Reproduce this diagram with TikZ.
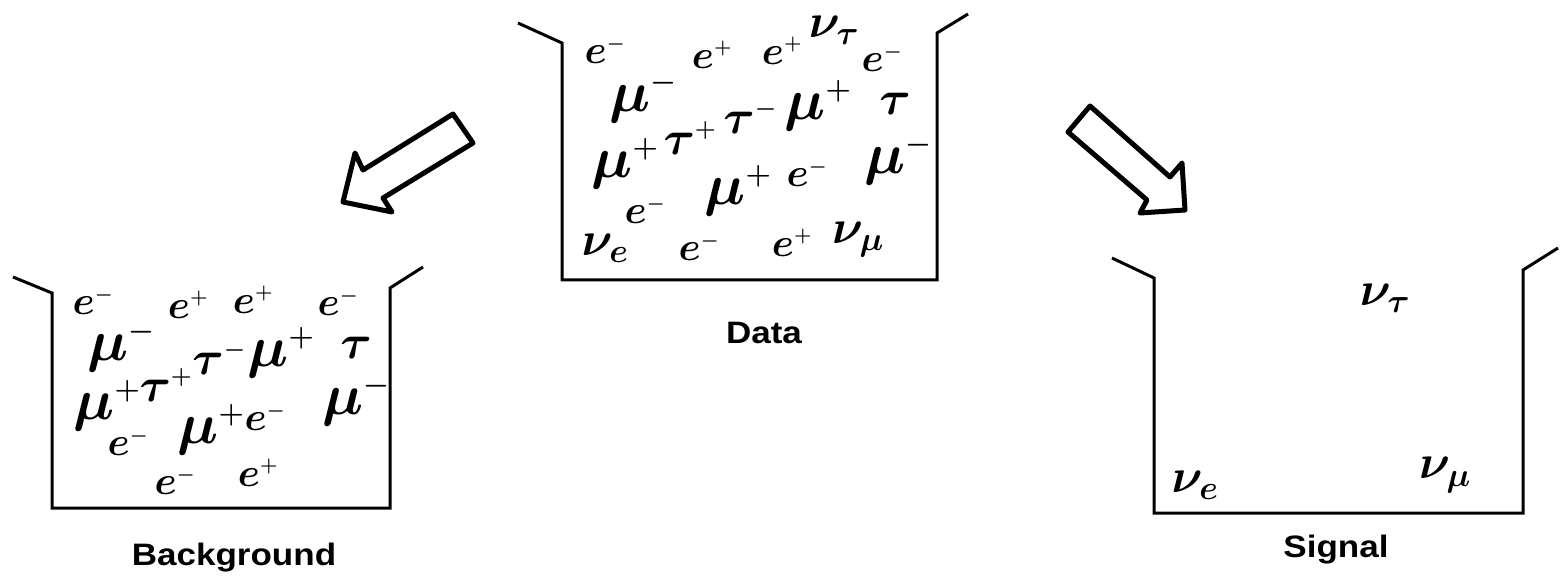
\RequirePackage{fix-cm}
\documentclass[tikz,border=0pt]{standalone}
\usepackage{fontspec}
\newfontfamily\lblfont{Liberation Sans}[FakeStretch=1.13]
\newcommand{\chgm}{^{\scriptscriptstyle -}}
\newcommand{\chgp}{^{\scriptscriptstyle +}}
\begin{document}
\begin{tikzpicture}[x=1pt,y=-1pt,
  bucket/.style={line width=3pt,line join=miter},
  blockarrow/.style={line width=5pt,line join=round},
  lbl/.style={font=\lblfont\bfseries\fontsize{31}{31}\selectfont,anchor=base,inner sep=0pt},
  pe/.style={font=\fontsize{40}{40}\selectfont\boldmath,inner sep=0pt},
  pmu/.style={font=\fontsize{58}{58}\selectfont\boldmath,inner sep=0pt},
  ptau/.style={font=\fontsize{48}{48}\selectfont\boldmath,inner sep=0pt},
  pnu/.style={font=\fontsize{48}{48}\selectfont\boldmath,inner sep=0pt}]
\useasboundingbox (0,0) rectangle (1561,577);

% Data bucket
\coordinate (d1) at (518,23); \coordinate (d2) at (562,43);
\coordinate (d3) at (562,280); \coordinate (d4) at (937,280);
\coordinate (d5) at (937,33); \coordinate (d6) at (968,14);
\draw[bucket] (d1) -- (d2) -- (d3) -- (d4) -- (d5) -- (d6);
\node[lbl] (datalbl) at (764,343) {Data};

% Background bucket
\coordinate (b1) at (13,277); \coordinate (b2) at (52,293);
\coordinate (b3) at (52,508); \coordinate (b4) at (390,508);
\coordinate (b5) at (390,288); \coordinate (b6) at (423,267);
\draw[bucket] (b1) -- (b2) -- (b3) -- (b4) -- (b5) -- (b6);
\node[lbl] (bglbl) at (234,565) {Background};

% Signal bucket
\coordinate (s1) at (1112,258); \coordinate (s2) at (1154,278);
\coordinate (s3) at (1154,513); \coordinate (s4) at (1523,513);
\coordinate (s5) at (1523,270); \coordinate (s6) at (1558,248);
\draw[bucket] (s1) -- (s2) -- (s3) -- (s4) -- (s5) -- (s6);
\node[lbl] (siglbl) at (1336,557) {Signal};

% Block arrows
\draw[blockarrow] (453,114) -- (473,143) -- (383,198) -- (392,212) -- (343,202) -- (355,153) -- (363,170) -- cycle;
\draw[blockarrow] (1090,106) -- (1068,132) -- (1147,200) -- (1140,213) -- (1185,210) -- (1182,163) -- (1170,177) -- cycle;

% Data particles
\node[pe]   (dp1)  at (605,50)  {$e\chgm$};
\node[pmu]  (dp2)  at (643,97)  {$\mu\chgm$};
\node[pe]   (dp3)  at (712,55)  {$e\chgp$};
\node[pe]   (dp4)  at (782,51)  {$e\chgp$};
\node[pnu]  (dp5)  at (834,30)  {$\nu_\tau$};
\node[pe]   (dp6)  at (882,58)  {$e\chgm$};
\node[pmu]  (dp7)  at (818,106) {$\mu\chgp$};
\node[ptau] (dp8)  at (895,104) {$\tau$};
\node[ptau] (dp9)  at (750,117) {$\tau\chgm$};
\node[pmu]  (dp10) at (625,164) {$\mu\chgp$};
\node[ptau] (dp11) at (690,138) {$\tau\chgp$};
\node[pmu]  (dp12) at (738,191) {$\mu\chgp$};
\node[pe]   (dp13) at (807,173) {$e\chgm$};
\node[pmu]  (dp14) at (898,159) {$\mu\chgm$};
\node[pe]   (dp15) at (645,210) {$e\chgm$};
\node[pnu]  (dp16) at (605,248) {$\nu_e$};
\node[pe]   (dp17) at (699,247) {$e\chgm$};
\node[pe]   (dp18) at (792,243) {$e\chgp$};
\node[pnu]  (dp19) at (858,240) {$\nu_\mu$};

% Background particles
\node[pe]   (bp1)  at (93,301)  {$e\chgm$};
\node[pmu]  (bp2)  at (121,346) {$\mu\chgm$};
\node[pe]   (bp3)  at (188,305) {$e\chgp$};
\node[pe]   (bp4)  at (253,300) {$e\chgp$};
\node[pe]   (bp5)  at (338,302) {$e\chgm$};
\node[pmu]  (bp6)  at (281,353) {$\mu\chgp$};
\node[ptau] (bp7)  at (356,348) {$\tau$};
\node[ptau] (bp8)  at (219,358) {$\tau\chgm$};
\node[pmu]  (bp9)  at (107,406) {$\mu\chgp$};
\node[ptau] (bp10) at (166,385) {$\tau\chgp$};
\node[pmu]  (bp11) at (211,430) {$\mu\chgp$};
\node[pe]   (bp12) at (265,417) {$e\chgm$};
\node[pmu]  (bp13) at (356,400) {$\mu\chgm$};
\node[pe]   (bp14) at (128,442) {$e\chgm$};
\node[pe]   (bp15) at (175,481) {$e\chgm$};
\node[pe]   (bp16) at (258,473) {$e\chgp$};

% Signal particles
\node[pnu]  (sp1)  at (1385,298) {$\nu_\tau$};
\node[pnu]  (sp2)  at (1195,485) {$\nu_e$};
\node[pnu]  (sp3)  at (1445,475) {$\nu_\mu$};
\end{tikzpicture}
\end{document}
